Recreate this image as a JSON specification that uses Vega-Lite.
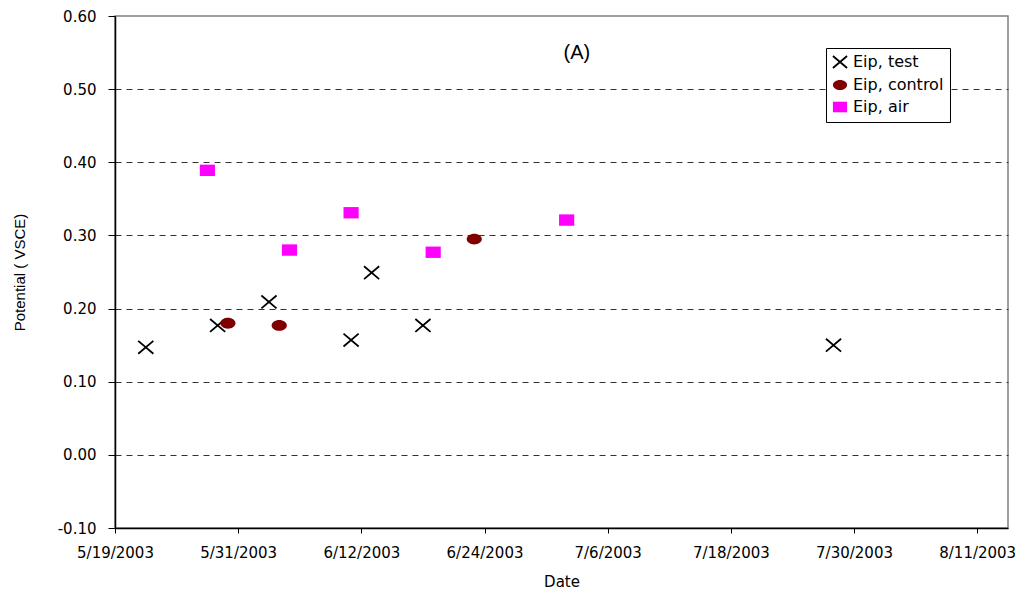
{
  "$schema": "https://vega.github.io/schema/vega-lite/v6.json",
  "width": 893,
  "height": 512,
  "autosize": {"type": "none"},
  "padding": {"left": 115, "top": 16, "right": 24, "bottom": 66},
  "background": "white",
  "config": {
    "view": {"stroke": "#808080", "strokeWidth": 1.5},
    "font": "DejaVu Sans"
  },
  "layer": [
    {
      "data": {
        "values": [
          {"date": "2003-05-22", "value": 0.147, "series": "Eip, test"},
          {"date": "2003-05-29", "value": 0.177, "series": "Eip, test"},
          {"date": "2003-06-03", "value": 0.209, "series": "Eip, test"},
          {"date": "2003-06-11", "value": 0.157, "series": "Eip, test"},
          {"date": "2003-06-13", "value": 0.249, "series": "Eip, test"},
          {"date": "2003-06-18", "value": 0.177, "series": "Eip, test"},
          {"date": "2003-07-28", "value": 0.150, "series": "Eip, test"},
          {"date": "2003-05-30", "value": 0.180, "series": "Eip, control"},
          {"date": "2003-06-04", "value": 0.177, "series": "Eip, control"},
          {"date": "2003-06-23", "value": 0.295, "series": "Eip, control"},
          {"date": "2003-05-28", "value": 0.389, "series": "Eip, air"},
          {"date": "2003-06-05", "value": 0.280, "series": "Eip, air"},
          {"date": "2003-06-11", "value": 0.331, "series": "Eip, air"},
          {"date": "2003-06-19", "value": 0.277, "series": "Eip, air"},
          {"date": "2003-07-02", "value": 0.321, "series": "Eip, air"}
        ]
      },
      "mark": {"type": "point", "strokeWidth": 1.8, "opacity": 1},
      "encoding": {
        "x": {
          "field": "date",
          "type": "temporal",
          "title": "Date",
          "scale": {
            "type": "utc",
            "domain": [
              {"year": 2003, "month": 5, "date": 19, "utc": true},
              {"year": 2003, "month": 8, "date": 14, "utc": true}
            ],
            "nice": false
          },
          "axis": {
            "values": [
              {"year": 2003, "month": 5, "date": 19, "utc": true},
              {"year": 2003, "month": 5, "date": 31, "utc": true},
              {"year": 2003, "month": 6, "date": 12, "utc": true},
              {"year": 2003, "month": 6, "date": 24, "utc": true},
              {"year": 2003, "month": 7, "date": 6, "utc": true},
              {"year": 2003, "month": 7, "date": 18, "utc": true},
              {"year": 2003, "month": 7, "date": 30, "utc": true},
              {"year": 2003, "month": 8, "date": 11, "utc": true}
            ],
            "labelExpr": "utcFormat(datum.value, '%-m/%-d/%Y')",
            "grid": false,
            "domainColor": "black",
            "domainWidth": 1.5,
            "tickColor": "black",
            "tickSize": 5,
            "labelFont": "DejaVu Sans",
            "labelFontSize": 15,
            "labelColor": "black",
            "labelPadding": 12,
            "labelFlush": false,
            "labelOverlap": false,
            "titleFont": "DejaVu Sans",
            "titleFontSize": 15,
            "titleFontWeight": "normal",
            "titleColor": "black",
            "titlePadding": 14
          }
        },
        "y": {
          "field": "value",
          "type": "quantitative",
          "title": "Potential ( VSCE)",
          "scale": {"domain": [-0.1, 0.6], "nice": false, "zero": false},
          "axis": {
            "values": [-0.1, 0, 0.1, 0.2, 0.3, 0.4, 0.5, 0.6],
            "labelExpr": "replace(format(datum.value, '.2f'), '\u2212', '-')",
            "grid": true,
            "gridColor": "#333333",
            "gridDash": [6, 5],
            "gridWidth": 1,
            "gridOpacity": {"condition": {"test": "datum.value > 0.59 || datum.value < -0.09", "value": 0}, "value": 1},
            "domainColor": "black",
            "domainWidth": 1.5,
            "tickColor": "black",
            "tickSize": 7,
            "labelFont": "DejaVu Sans",
            "labelFontSize": 15,
            "labelColor": "black",
            "labelPadding": 12,
            "labelFlush": false,
            "titleFont": "Liberation Sans",
            "titleFontSize": 15,
            "titleFontWeight": "normal",
            "titleColor": "black",
            "titlePadding": 30
          }
        },
        "shape": {
          "field": "series",
          "type": "nominal",
          "scale": {
            "domain": ["Eip, test", "Eip, control", "Eip, air"],
            "range": [
              "M-1,-0.85L1,0.85M-1,0.85L1,-0.85",
              "M-1,0A1,0.72 0 1,0 1,0A1,0.72 0 1,0 -1,0Z",
              "M-1,-0.75L1,-0.75L1,0.75L-1,0.75Z"
            ]
          },
          "legend": {
            "orient": "none",
            "legendX": 711,
            "legendY": 32,
            "title": null,
            "strokeColor": "black",
            "fillColor": "white",
            "padding": 6,
            "rowPadding": 4,
            "symbolSize": 200,
            "symbolStrokeWidth": 1.8,
            "labelFont": "DejaVu Sans",
            "labelFontSize": 16,
            "labelColor": "black",
            "labelOffset": 5
          }
        },
        "fill": {
          "field": "series",
          "type": "nominal",
          "scale": {
            "domain": ["Eip, test", "Eip, control", "Eip, air"],
            "range": ["transparent", "#800000", "#FF00FF"]
          },
          "legend": {
            "orient": "none",
            "legendX": 711,
            "legendY": 32,
            "title": null
          }
        },
        "stroke": {
          "field": "series",
          "type": "nominal",
          "scale": {
            "domain": ["Eip, test", "Eip, control", "Eip, air"],
            "range": ["black", "transparent", "transparent"]
          },
          "legend": {
            "orient": "none",
            "legendX": 711,
            "legendY": 32,
            "title": null
          }
        },
        "size": {"value": 230}
      }
    },
    {
      "data": {"values": [{"label": "(A)"}]},
      "mark": {"type": "text", "font": "Liberation Sans", "fontSize": 20, "fontWeight": "normal", "align": "center", "baseline": "middle", "fill": "black"},
      "encoding": {
        "x": {"datum": {"year": 2003, "month": 7, "date": 3, "utc": true}, "type": "temporal"},
        "y": {"datum": 0.55, "type": "quantitative"},
        "text": {"field": "label"}
      }
    }
  ]
}
